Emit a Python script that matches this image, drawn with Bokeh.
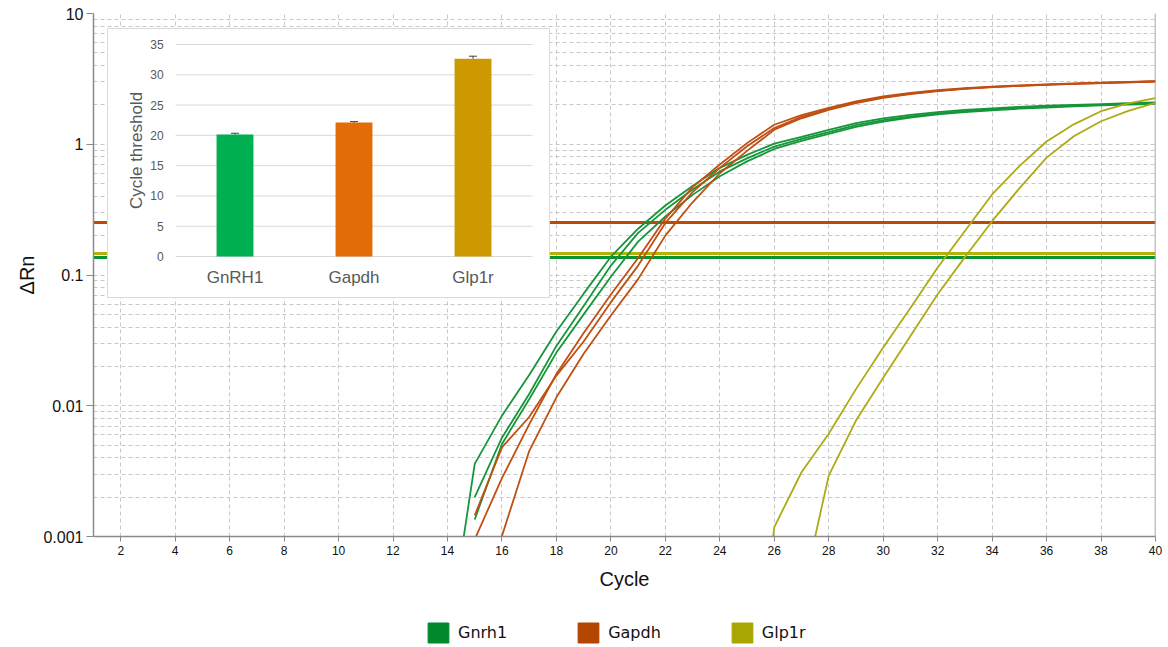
import math

from bokeh.core.properties import value
from bokeh.embed import file_html
from bokeh.layouts import column
from bokeh.models import (CustomJSTickFormatter, FixedTicker, Legend,
                          LegendItem, LinearScale, Range1d, Span)
from bokeh.plotting import figure
from bokeh.resources import INLINE

# ---------------------------------------------------------------------------
# qPCR amplification data (ΔRn per cycle, log scale)
# ---------------------------------------------------------------------------
gnrh1_a_start = 14
gnrh1_a = [0.00015, 0.00359, 0.0084, 0.0172, 0.037, 0.072, 0.138, 0.226, 0.34,
           0.48, 0.66, 0.83, 1.01, 1.14, 1.29, 1.45, 1.58, 1.68, 1.76, 1.83,
           1.88, 1.93, 1.97, 2.00, 2.03, 2.06, 2.09]
gnrh1_b_start = 15
gnrh1_b = [0.0020, 0.0057, 0.0123, 0.0287, 0.058, 0.118, 0.21, 0.315, 0.45,
           0.62, 0.78, 0.96, 1.10, 1.24, 1.40, 1.53, 1.63, 1.72, 1.79, 1.85,
           1.90, 1.94, 1.97, 2.00, 2.03, 2.06]
gnrh1_c_start = 15
gnrh1_c = [0.00135, 0.0051, 0.0112, 0.0255, 0.050, 0.097, 0.18, 0.28, 0.41,
           0.57, 0.74, 0.92, 1.06, 1.20, 1.36, 1.49, 1.60, 1.69, 1.76, 1.82,
           1.87, 1.91, 1.95, 1.98, 2.01, 2.04]

gapdh_a_start = 15
gapdh_a = [0.00095, 0.0028, 0.0072, 0.0175, 0.036, 0.071, 0.135, 0.27, 0.47,
           0.70, 1.02, 1.41, 1.67, 1.90, 2.13, 2.32, 2.47, 2.59, 2.68, 2.76,
           2.82, 2.87, 2.92, 2.96, 3.00, 3.04]
gapdh_b_start = 15
gapdh_b = [0.00145, 0.0048, 0.0082, 0.0170, 0.031, 0.062, 0.118, 0.25, 0.43,
           0.66, 0.966, 1.33, 1.62, 1.86, 2.09, 2.28, 2.44, 2.56, 2.66, 2.74,
           2.80, 2.86, 2.90, 2.94, 2.98, 3.02]
gapdh_c_start = 16
gapdh_c = [0.00101, 0.0045, 0.0116, 0.025, 0.049, 0.093, 0.20, 0.36, 0.60,
           0.89, 1.29, 1.58, 1.83, 2.06, 2.26, 2.42, 2.55, 2.65, 2.73, 2.80,
           2.85, 2.90, 2.94, 2.98, 3.02]

glp1r_a_start = 25
glp1r_a = [0.00002, 0.00118, 0.0031, 0.0061, 0.0134, 0.0279, 0.056, 0.114,
           0.217, 0.413, 0.68, 1.05, 1.42, 1.79, 2.05, 2.25]
glp1r_b_start = 27
glp1r_b = [0.00034, 0.00292, 0.0077, 0.0164, 0.0342, 0.0712, 0.137, 0.258,
           0.46, 0.79, 1.15, 1.50, 1.80, 2.07]

# Detection thresholds per assay
thresholds = {"Gnrh1": 0.137, "Glp1r": 0.1465, "Gapdh": 0.251}

# Inset: mean cycle threshold per gene, with error
ct_genes = ["GnRH1", "Gapdh", "Glp1r"]
ct_means = [20.15, 22.12, 32.65]
ct_errors = [0.20, 0.15, 0.42]
ct_ticks = [0, 5, 10, 15, 20, 25, 30, 35]

x_ticks = list(range(2, 41, 2))
y_ticks = [0.001, 0.01, 0.1, 1, 10]

legend_genes = ["Gnrh1", "Gapdh", "Glp1r"]

# ---------------------------------------------------------------------------
# Styling / layout
# ---------------------------------------------------------------------------
W = 1168
H_MAIN, H_LEG = 600, 47
FL, FR, FT, FB = 93, 1155, 13, 536          # plot frame edges (px)

CURVE = {"Gnrh1": "#16963a", "Gapdh": "#c04f12", "Glp1r": "#adab14"}
THRESH = {"Gnrh1": "#0a9132", "Gapdh": "#bb4a06", "Glp1r": "#b4b20a"}
SWATCH = {"Gnrh1": "#008a2c", "Gapdh": "#b34700", "Glp1r": "#a8a600"}
BAR = ["#00b050", "#e36c09", "#cc9900"]
GRID = "#c8c8c8"
AXIS = "#8a8a8a"
INSET_TEXT = "#595959"

FONT = "Liberation Sans"

p = figure(width=W, height=H_MAIN, x_range=Range1d(1, 40),
           y_range=Range1d(0.001, 10), y_axis_type="log",
           output_backend="svg", toolbar_location=None,
           min_border_left=FL, min_border_right=W - FR, min_border_top=FT,
           min_border_bottom=H_MAIN - FB)
p.outline_line_color = None
p.background_fill_color = "white"

# --- axes -------------------------------------------------------------------
p.xaxis.ticker = FixedTicker(ticks=x_ticks)
p.xaxis.axis_label = "Cycle"
p.yaxis.axis_label = "ΔRn"
minor = [k * 10.0 ** e for e in range(-3, 1) for k in range(2, 10)]
p.yaxis.ticker = FixedTicker(ticks=y_ticks, minor_ticks=minor)
p.yaxis.formatter = CustomJSTickFormatter(code="return String(tick);")

for ax in (p.xaxis[0], p.yaxis[0]):
    ax.axis_line_color = AXIS
    ax.axis_line_width = 1.5
    ax.major_tick_line_color = AXIS
    ax.minor_tick_line_color = None
    ax.major_tick_in = 0
    ax.major_label_text_font = FONT
    ax.major_label_text_color = "#111111"
    ax.axis_label_text_font = FONT
    ax.axis_label_text_font_style = "normal"
    ax.axis_label_text_font_size = "20px"
    ax.axis_label_text_color = "#111111"

p.xaxis.major_tick_out = 5
p.xaxis.major_label_text_font_size = "12px"
p.xaxis.major_label_standoff = 4
p.xaxis.axis_label_standoff = 10
p.yaxis.major_tick_out = 7
p.yaxis.major_label_text_font_size = "16px"
p.yaxis.major_label_standoff = 3
p.yaxis.axis_label_standoff = 2

# --- grid -------------------------------------------------------------------
p.xgrid.ticker = FixedTicker(ticks=x_ticks[:-1])
for g in (p.xgrid[0], p.ygrid[0]):
    g.grid_line_color = GRID
    g.grid_line_dash = "4 3"
    g.grid_line_width = 1
p.ygrid.minor_grid_line_color = GRID
p.ygrid.minor_grid_line_dash = "4 3"

p.add_layout(Span(location=40, dimension="height", line_color=AXIS, line_width=1.5))

# --- thresholds -------------------------------------------------------------
for gene in ("Gapdh", "Glp1r", "Gnrh1"):
    p.hspan(y=[thresholds[gene]], line_color=THRESH[gene], line_width=3)

# --- amplification curves ---------------------------------------------------
curves = [
    ("Gnrh1", gnrh1_a_start, gnrh1_a), ("Gnrh1", gnrh1_b_start, gnrh1_b),
    ("Gnrh1", gnrh1_c_start, gnrh1_c),
    ("Gapdh", gapdh_a_start, gapdh_a), ("Gapdh", gapdh_b_start, gapdh_b),
    ("Gapdh", gapdh_c_start, gapdh_c),
    ("Glp1r", glp1r_a_start, glp1r_a), ("Glp1r", glp1r_b_start, glp1r_b),
]
for gene, start, vals in curves:
    cyc = list(range(start, start + len(vals)))
    p.line(cyc, vals, line_color=CURVE[gene], line_width=1.8)

# --- inset bar chart (own linear scales mapped onto the frame) --------------
BOX_L, BOX_R, BOX_T, BOX_B = 107, 549, 28, 297
CAT_L, CAT_R = 175, 532          # category band (px)
VAL0, VAL35 = 256, 44            # pixel rows of 0 and 35

# pixel-space ranges for the inset panel
p.extra_x_ranges["px"] = Range1d(FL, FR)
p.extra_y_ranges["py"] = Range1d(FB, FT)
ux = 3.0 / (CAT_R - CAT_L)
p.extra_x_ranges["ix"] = Range1d(-(CAT_L - FL) * ux, 3 + (FR - CAT_R) * ux)
uy = 35.0 / (VAL0 - VAL35)
p.extra_y_ranges["iy"] = Range1d(-(FB - VAL0) * uy, 35 + (VAL35 - FT) * uy)
p.extra_x_scales = {"px": LinearScale(), "ix": LinearScale()}
p.extra_y_scales = {"py": LinearScale(), "iy": LinearScale()}

p.quad(left=[BOX_L], right=[BOX_R], top=[BOX_T], bottom=[BOX_B],
       x_range_name="px", y_range_name="py",
       fill_color="white", line_color="#d9d9d9", line_width=1)

IX = dict(x_range_name="ix", y_range_name="iy")
p.segment(x0=[0] * len(ct_ticks), x1=[3] * len(ct_ticks), y0=ct_ticks,
          y1=ct_ticks, line_color="#d9d9d9", line_width=1, **IX)

xs = [i + 0.5 for i in range(len(ct_genes))]
p.vbar(x=xs, top=ct_means, bottom=0, width=0.31, fill_color=BAR,
       line_color=None, **IX)
err_top = [m + e for m, e in zip(ct_means, ct_errors)]
p.segment(x0=xs, x1=xs, y0=ct_means, y1=err_top, line_color="#404040",
          line_width=1, **IX)
p.scatter(xs, err_top, marker="dash", size=8, line_color="#404040",
          line_width=1, **IX)

p.text(x=[-0.1] * len(ct_ticks), y=ct_ticks, text=[str(t) for t in ct_ticks],
       text_align="right", text_baseline="middle", text_font=value(FONT),
       text_font_size="12px", text_color=INSET_TEXT, **IX)
p.text(x=xs, y=[-3.5] * len(xs), text=ct_genes, text_align="center",
       text_baseline="middle", text_font=value(FONT), text_font_size="17px",
       text_color=INSET_TEXT, **IX)
p.text(x=[-0.33], y=[17.5], text=["Cycle threshold"], angle=math.pi / 2,
       text_align="center", text_baseline="middle", text_font=value(FONT),
       text_font_size="17px", text_color=INSET_TEXT, **IX)

# --- legend strip below the chart ------------------------------------------
lg = figure(width=W, height=H_LEG, output_backend="svg", toolbar_location=None,
            x_axis_location=None, y_axis_location=None,
            min_border_left=0, min_border_right=0, min_border_top=0,
            min_border_bottom=0)
lg.outline_line_color = None
lg.xgrid.visible = False
lg.ygrid.visible = False

nan = float("nan")
items = []
for gene in legend_genes:
    r = lg.quad(left=[nan], right=[nan], top=[nan], bottom=[nan],
                fill_color=SWATCH[gene], line_color=SWATCH[gene])
    items.append(LegendItem(label=gene, renderers=[r]))

legend = Legend(items=items, orientation="horizontal", location=(425 - FL, 2),
                glyph_width=26, glyph_height=25, label_standoff=7, spacing=68,
                label_text_font="DejaVu Sans", label_text_font_size="16px",
                label_text_color="#111111", border_line_color=None,
                background_fill_alpha=0, padding=0, margin=0)
lg.add_layout(legend, "center")

open("out.html", "w").write(file_html(column(p, lg, spacing=0), INLINE))
